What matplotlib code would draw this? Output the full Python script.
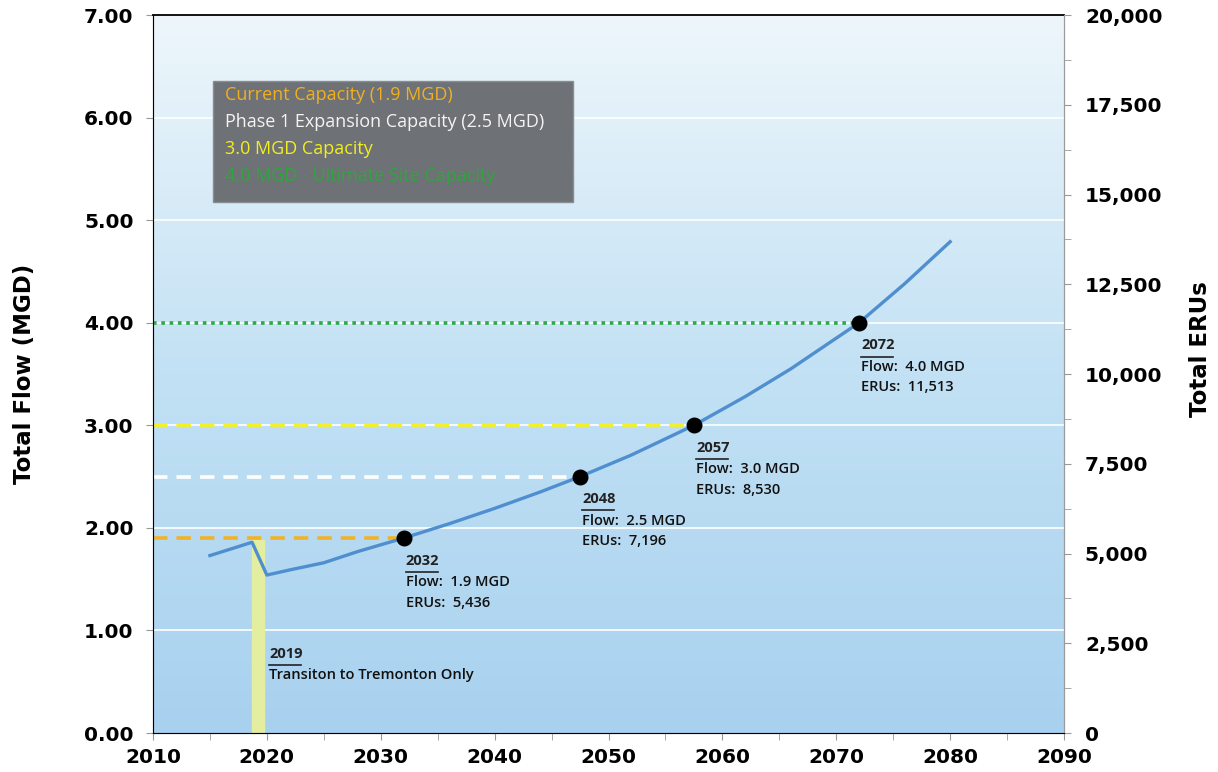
import matplotlib.pyplot as plt
import numpy as np
from matplotlib.ticker import MultipleLocator, FuncFormatter
from matplotlib.colors import LinearSegmentedColormap

# projected flow curve (MGD)
years = [2015, 2017, 2018.7, 2020, 2022, 2025, 2028, 2032, 2036, 2040, 2044, 2047.5,
         2052, 2057.5, 2062, 2066, 2072, 2076, 2080]
flow = [1.73, 1.80, 1.86, 1.54, 1.59, 1.66, 1.77, 1.90, 2.04, 2.19, 2.35, 2.50,
        2.71, 3.00, 3.28, 3.55, 4.00, 4.38, 4.79]

# milestone points
pt_years = [2032, 2047.5, 2057.5, 2072]
pt_flow = [1.9, 2.5, 3.0, 4.0]
pt_labels = ['2032', '2048', '2057', '2072']
pt_flow_txt = ['1.9 MGD', '2.5 MGD', '3.0 MGD', '4.0 MGD']
pt_erus = ['5,436', '7,196', '8,530', '11,513']

# capacity lines
cap_levels = [1.9, 2.5, 3.0, 4.0]
cap_colors = ['#f2b227', '#ffffff', '#f5f01e', '#2eaa44']
cap_styles = [(0, (4, 2.5)), (0, (4, 2.5)), (0, (4, 2.5)), (0, (1, 1.3))]
cap_names = ['Current Capacity (1.9 MGD)', 'Phase 1 Expansion Capacity (2.5 MGD)',
             '3.0 MGD Capacity', '4.0 MGD - Ultimate Site Capacity']
cap_text_colors = ['#f0b020', '#f4f4f4', '#f2ee20', '#2ea63c']

fig = plt.figure(figsize=(12.18, 7.72), dpi=100)
ax = fig.add_axes([0.1256, 0.0505, 0.748, 0.930])

# gradient background
grad = np.linspace(0, 1, 256).reshape(-1, 1)
cmap = LinearSegmentedColormap.from_list('bg', ['#a8d1ef', '#c2e1f4', '#eef6fb'])
ax.imshow(grad, aspect='auto', cmap=cmap, origin='lower',
          extent=[2010, 2090, 0, 7], zorder=0)

ax.set_xlim(2010, 2090)
ax.set_ylim(0, 7)

for yv in range(1, 7):
    ax.axhline(yv, color='white', lw=1.2, zorder=1)

# transition bar
ax.fill_between([2018.7, 2019.75], 0, 1.88, color='#e4eea0', zorder=2)

for lvl, c, ls, xe in zip(cap_levels, cap_colors, cap_styles, pt_years):
    ax.plot([2010, xe], [lvl, lvl], color=c, ls=ls, lw=2.6, zorder=3)

ax.plot(years, flow, color='#4f8fd0', lw=2.4, zorder=4)
ax.scatter(pt_years, pt_flow, s=110, color='black', zorder=5)

fs = 10.5
for x, y, yl, ft, er in zip(pt_years, pt_flow, pt_labels, pt_flow_txt, pt_erus):
    ax.text(x + 0.2, y - 0.15, yl, fontsize=fs, fontweight='bold', color='#222222',
            va='top', ha='left', family='Open Sans', zorder=6)
    ax.plot([x + 0.2, x + 3.0], [y - 0.33, y - 0.33], color='#222222', lw=1.2, zorder=6)
    ax.text(x + 0.2, y - 0.36, 'Flow:  ' + ft, fontsize=fs, color='#111111',
            va='top', ha='left', family='Open Sans', fontweight='semibold', zorder=6)
    ax.text(x + 0.2, y - 0.56, 'ERUs:  ' + er, fontsize=fs, color='#111111',
            va='top', ha='left', family='Open Sans', fontweight='semibold', zorder=6)

ax.text(2020.2, 0.84, '2019', fontsize=fs, fontweight='bold', color='#222222',
        va='top', ha='left', family='Open Sans', zorder=6)
ax.plot([2020.2, 2023.0], [0.66, 0.66], color='#222222', lw=1.2, zorder=6)
ax.text(2020.2, 0.63, 'Transiton to Tremonton Only', fontsize=fs, color='#111111',
        va='top', ha='left', family='Open Sans', fontweight='semibold', zorder=6)

# legend box
ax.add_patch(plt.Rectangle((2015.3, 5.18), 31.6, 1.18, facecolor='#6e7175',
                           edgecolor='#8a8d90', zorder=6))
for i, (nm, c) in enumerate(zip(cap_names, cap_text_colors)):
    ax.text(2016.3, 6.22 - i * 0.263, nm, color=c, fontsize=13, va='center',
            ha='left', family='Open Sans', zorder=7)

# axes styling
ax.xaxis.set_major_locator(MultipleLocator(10))
ax.xaxis.set_minor_locator(MultipleLocator(5))
ax.yaxis.set_major_locator(MultipleLocator(1))
ax.yaxis.set_major_formatter(FuncFormatter(lambda v, p: f'{v:.2f}'))
ax.tick_params(axis='both', which='both', color='#999999', length=5, labelsize=14.5)
ax.tick_params(axis='x', pad=6)
ax.tick_params(axis='y', pad=9)
for lab in ax.get_xticklabels() + ax.get_yticklabels():
    lab.set_fontweight('bold')
ax.spines['top'].set_color('black')
ax.spines['top'].set_linewidth(1.3)
for s in ['left', 'bottom', 'right']:
    ax.spines[s].set_color('#9a9a9a')
ax.set_ylabel('Total Flow (MGD)', fontsize=16.5, fontweight='bold')
ax.yaxis.set_label_coords(-0.128, 0.5)

ax2 = ax.twinx()
ax2.set_ylim(0, 20000)
ax2.yaxis.set_major_locator(MultipleLocator(2500))
ax2.yaxis.set_minor_locator(MultipleLocator(1250))
ax2.yaxis.set_major_formatter(FuncFormatter(lambda v, p: f'{int(v):,}'))
ax2.tick_params(axis='y', which='both', color='#999999', length=5, labelsize=14.5, pad=10)
for lab in ax2.get_yticklabels():
    lab.set_fontweight('bold')
ax2.spines['right'].set_color('#9a9a9a')
ax2.spines['top'].set_visible(False)
ax2.set_ylabel('Total ERUs', fontsize=16.5, fontweight='bold')
ax2.yaxis.set_label_coords(1.137, 0.535)

fig.savefig('out.png', dpi=100)
